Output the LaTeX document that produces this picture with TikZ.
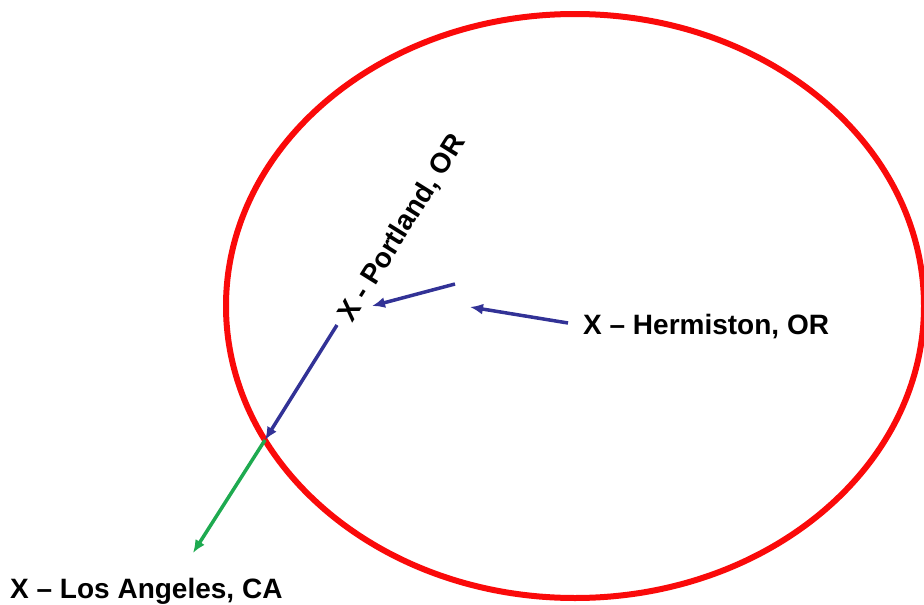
\documentclass[tikz,border=0pt]{standalone}
\usepackage{fontspec}
\setmainfont{Liberation Sans}
\usetikzlibrary{arrows.meta}
\definecolor{ringred}{RGB}{250,10,10}
\definecolor{navy}{RGB}{50,50,150}
\definecolor{lagreen}{RGB}{30,170,80}
\tikzset{
  lbl/.style={font=\bfseries\fontsize{28}{30}\selectfont, inner sep=0pt},
  blarrow/.style={draw=navy, line width=3.5pt, -{Latex[length=13pt,width=11pt]}},
  grarrow/.style={draw=lagreen, line width=3.5pt, -{Latex[length=13pt,width=11pt]}},
}
\begin{document}
\begin{tikzpicture}[x=1pt,y=-1pt]
\useasboundingbox (0,0) rectangle (924,605);
\draw[ringred, line width=6pt] (575,306) ellipse [x radius=349, y radius=292];
\node[lbl, anchor=base west] (herm) at (583,334) {X – Hermiston, OR};
\node[lbl, anchor=base west, rotate=58] (port) at (352,324) {X - Portland, OR};
\node[lbl, anchor=base west] (la) at (10,598) {X – Los Angeles, CA};
\coordinate (h1) at (568,323);
\coordinate (h2) at (470,307);
\coordinate (p1) at (455,284);
\coordinate (p2) at (372,306);
\coordinate (d1) at (337,325);
\coordinate (d2) at (265,440);
\coordinate (g2) at (193,553);
\draw[blarrow] (h1) -- (h2);
\draw[blarrow] (p1) -- (p2);
\draw[blarrow] (d1) -- (d2);
\draw[grarrow] (d2) -- (g2);
\end{tikzpicture}
\end{document}
